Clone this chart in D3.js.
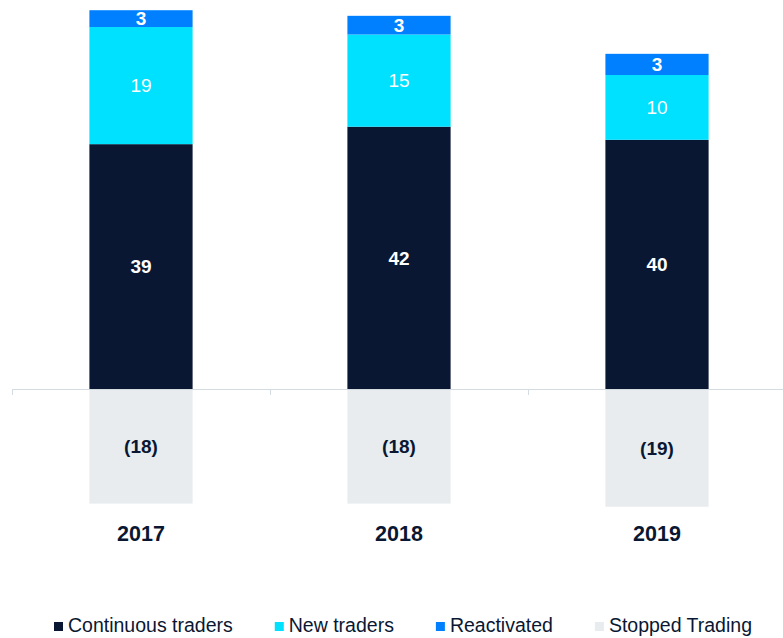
<!DOCTYPE html>
<html>
<head>
<meta charset="utf-8">
<script src="https://cdn.jsdelivr.net/npm/d3@7"></script>
<style>
  html, body { margin: 0; padding: 0; background: #fff; }
  svg { display: block; font-family: "Liberation Sans", Arial, sans-serif; }
</style>
</head>
<body>
<svg id="chart" width="783" height="638"></svg>
<script>
// ---- data ----
const years = ["2017", "2018", "2019"];
const continuousTraders = [39.3, 42.1, 40.0];
const newTraders = [18.8, 14.8, 10.4];
const reactivated = [2.7, 3.0, 3.4];
const stoppedTrading = [-18.4, -18.4, -18.9];
const seriesNames = ["Continuous traders", "New traders", "Reactivated", "Stopped Trading"];
const seriesColors = ["#0a1733", "#00e0ff", "#0080ff", "#e8ecee"];

// ---- layout ----
const svg = d3.select("#chart");
const zeroY = 389, pxPerUnit = 6.23;

const x = d3.scaleBand().domain(years).range([12, 786]).paddingInner(0.6).paddingOuter(0.3);
const yDomain = [-20, 62];
const y = d3.scaleLinear().domain(yDomain)
  .range([zeroY - yDomain[0] * pxPerUnit, zeroY - yDomain[1] * pxPerUnit]);

const rows = years.map((yr, i) => ({
  year: yr,
  c: continuousTraders[i], n: newTraders[i], r: reactivated[i], s: stoppedTrading[i]
}));
const stacked = d3.stack().keys(["c", "n", "r"])(rows);
const posColors = { c: seriesColors[0], n: seriesColors[1], r: seriesColors[2] };
const labelWeight = { c: "bold", n: "normal", r: "bold" };

// negative bars (stopped trading)
svg.append("g").selectAll("rect").data(rows).join("rect")
  .attr("x", d => x(d.year))
  .attr("width", x.bandwidth())
  .attr("y", y(0))
  .attr("height", d => y(d.s) - y(0))
  .attr("fill", seriesColors[3]);

// positive stacked bars
stacked.forEach(layer => {
  const key = layer.key;
  svg.append("g").selectAll("rect").data(layer).join("rect")
    .attr("x", d => x(d.data.year))
    .attr("width", x.bandwidth())
    .attr("y", d => y(d[1]))
    .attr("height", d => y(d[0]) - y(d[1]))
    .attr("fill", posColors[key]);
  svg.append("g").selectAll("text").data(layer).join("text")
    .attr("x", d => x(d.data.year) + x.bandwidth() / 2)
    .attr("y", d => (y(d[0]) + y(d[1])) / 2)
    .attr("dy", "0.36em")
    .attr("text-anchor", "middle")
    .attr("font-size", 19)
    .attr("font-weight", labelWeight[key])
    .attr("fill", "#fff")
    .text(d => d3.format(".0f")(d[1] - d[0]));
});

// category axis: line at zero with ticks at band edges
const edgeXs = [0, 1, 2, 3].map(k => x.range()[0] + k * x.step());
svg.append("line").attr("x1", x.range()[0]).attr("x2", x.range()[1])
  .attr("y1", y(0) + 0.5).attr("y2", y(0) + 0.5).attr("stroke", "#d5dce1");
svg.append("g").selectAll("line").data(edgeXs).join("line")
  .attr("x1", d => d + 0.5).attr("x2", d => d + 0.5)
  .attr("y1", y(0)).attr("y2", y(0) + 6)
  .attr("stroke", "#d5dce1");

// stopped labels
svg.append("g").selectAll("text").data(rows).join("text")
  .attr("x", d => x(d.year) + x.bandwidth() / 2)
  .attr("y", d => (y(0) + y(d.s)) / 2)
  .attr("dy", "0.36em")
  .attr("text-anchor", "middle")
  .attr("font-size", 19)
  .attr("font-weight", "bold")
  .attr("fill", "#0a1733")
  .text(d => "(" + d3.format(".0f")(-d.s) + ")");

// year labels
svg.append("g").selectAll("text").data(years).join("text")
  .attr("x", d => x(d) + x.bandwidth() / 2)
  .attr("y", 541)
  .attr("text-anchor", "middle")
  .attr("font-size", 21.5)
  .attr("font-weight", "bold")
  .attr("fill", "#0a1733")
  .text(d => d);

// legend
const leg = svg.append("g");
let lx = 54;
seriesNames.forEach((name, i) => {
  leg.append("rect").attr("x", lx).attr("y", 622).attr("width", 9).attr("height", 9)
    .attr("fill", seriesColors[i]);
  const t = leg.append("text").attr("x", lx + 14).attr("y", 632)
    .attr("font-size", 19.5).attr("fill", "#0a1733").text(name);
  lx = lx + 14 + t.node().getComputedTextLength() + 42;
});
</script>
</body>
</html>
